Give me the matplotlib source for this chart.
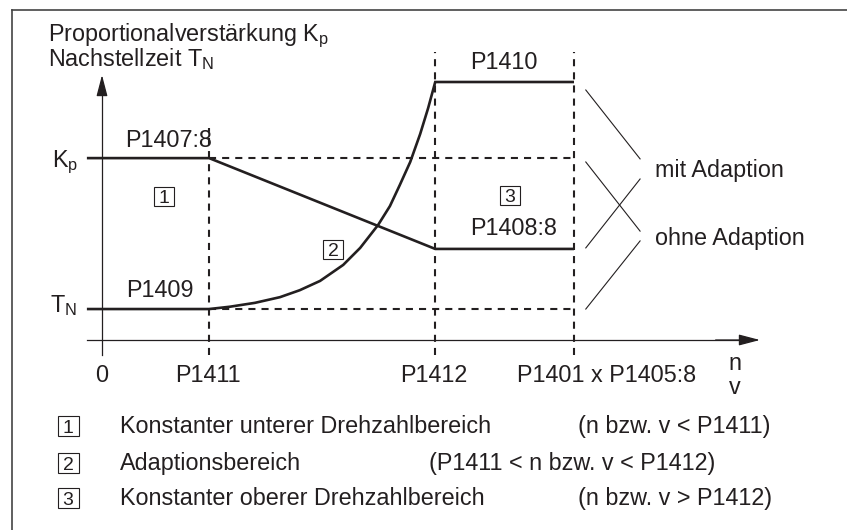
import matplotlib
matplotlib.use("Agg")
import matplotlib.pyplot as plt
from matplotlib import font_manager
from matplotlib.lines import Line2D
from matplotlib.patches import Rectangle

# speed axis (P1401 x P1405:8 = 100) and the parameter levels (P1410 = 100)
n_pos = [0, 22.7, 70.6, 100]
n_labels = ["0", "P1411", "P1412", "P1401 x P1405:8"]
kp_high = 70.5   # P1407:8
kp_low = 35.3    # P1408:8
tn_low = 12.0    # P1409
tn_high = 100.0  # P1410

# adaption curve of T_N
tn_curve_x = [22.7, 27.1, 32.4, 37.7, 41.9, 46.2, 51.1, 54.7, 58.5, 61.0, 63.1, 65.3, 67.4, 69.1, 70.6]
tn_curve_y = [12.0, 12.9, 14.4, 16.6, 19.3, 22.9, 29.1, 35.7, 44.6, 51.9, 60.1, 69.0, 79.8, 89.9, 100.0]

# thin bracket lines to the right ("mit Adaption" / "ohne Adaption")
bracket_x = [102.5, 114.0]
bracket_y = [[96.9, 70.2], [69.0, 42.2], [35.7, 62.4], [12.0, 38.4]]

legend_nums = ["1", "2", "3"]
legend_text = ["Konstanter unterer Drehzahlbereich", "Adaptionsbereich",
               "Konstanter oberer Drehzahlbereich"]
legend_cond = ["(n bzw. v < P1411)", "(P1411 < n bzw. v < P1412)", "(n bzw. v > P1412)"]

W, H = 847, 530
ink = "#231f20"
fs = 16.8

plt.rcParams["font.family"] = ["Liberation Sans", "DejaVu Sans"]
plt.rcParams["mathtext.fontset"] = "custom"
plt.rcParams["mathtext.rm"] = "Liberation Sans"
plt.rcParams["mathtext.it"] = "Liberation Sans:italic"

names = {f.name for f in font_manager.fontManager.ttflist}
narrow = "Liberation Sans Narrow" if "Liberation Sans Narrow" in names else "Liberation Sans"

fig = plt.figure(figsize=(W / 100, H / 100), dpi=100)
ax = fig.add_axes([0, 0, 1, 1])
sx, sy = 4.72, 2.58  # px per unit
ax.set_xlim(-102 / sx, (W - 102) / sx)
ax.set_ylim(-(H - 340) / sy, 340 / sy)
ax.axis("off")


def fxy(px, py):
    return px / W, 1 - py / H


def label(px, py, s, size=fs, ha="left", va="baseline", **kw):
    fig.text(*fxy(px, py), s, fontsize=size, ha=ha, va=va, color=ink, **kw)


def boxed(px, py, s, bw=20, bh=19, size=14):
    x0, y0 = fxy(px - bw / 2, py + bh / 2)
    fig.add_artist(Rectangle((x0, y0), bw / W, bh / H, transform=fig.transFigure,
                             fc="white", ec=ink, lw=0.8))
    fig.text(*fxy(px, py + 6.8), s, fontsize=size, ha="center", va="baseline",
             color=ink, family=narrow)


# frame
fig.add_artist(Line2D([12 / W, 1], [1 - 10 / H, 1 - 10 / H], color="#444444", lw=1.2))
fig.add_artist(Line2D([12 / W, 12 / W], [1 - 10 / H, 0], color="#444444", lw=1.2))

# axes with arrows
y_bot = -5.8
ax.plot([-3.2, 135], [0, 0], color=ink, lw=0.9)
ax.plot([0, 0], [y_bot, 98], color=ink, lw=0.9)
arr = dict(arrowstyle="-|>,head_length=0.65,head_width=0.17", mutation_scale=20,
           color=ink, lw=0.9, shrinkA=0, shrinkB=0)
ax.annotate("", xy=(139.4, 0), xytext=(130, 0), arrowprops=arr)
ax.annotate("", xy=(0, 102.7), xytext=(0, 95), arrowprops=arr)

# dashed guides
dash = dict(color=ink, lw=1.5, ls=(0, (3.4, 2.9)))
ax.plot([n_pos[1], n_pos[3]], [kp_high, kp_high], **dash)
ax.plot([n_pos[1], n_pos[3]], [tn_low, tn_low], **dash)
ax.plot([n_pos[1], n_pos[1]], [y_bot, 82], **dash)
ax.plot([n_pos[2], n_pos[2]], [y_bot, 111.6], **dash)
ax.plot([n_pos[3], n_pos[3]], [y_bot, 111.6], **dash)

# Kp with adaption
solid = dict(color=ink, lw=1.9, solid_capstyle="butt", solid_joinstyle="miter")
ax.plot([-3.2, n_pos[1], n_pos[2], n_pos[3]], [kp_high, kp_high, kp_low, kp_low], **solid)
# Tn with adaption
ax.plot([-3.2] + tn_curve_x + [n_pos[3]], [tn_low] + tn_curve_y + [tn_high], **solid)

for yy in bracket_y:
    ax.plot(bracket_x, yy, color=ink, lw=0.8)

# texts
label(48, 66, "Proportionalverstärkung K$_\\mathrm{p}$\nNachstellzeit T$_\\mathrm{N}$",
      linespacing=0.82)
label(78, 167, r"K$_\mathrm{p}$", ha="right")
label(77, 312, r"T$_\mathrm{N}$", ha="right")
label(125, 147, "P1407:8")
label(126, 297, "P1409")
label(504, 69, "P1410", ha="center")
label(470, 235, "P1408:8")
label(102, 382, n_labels[0], ha="center")
label(208, 382, n_labels[1], ha="center")
label(434, 382, n_labels[2], ha="center")
label(517, 382, n_labels[3])
label(735, 370, "n", ha="center")
label(735, 394, "v", ha="center")
label(655, 177, "mit Adaption")
label(655, 245, "ohne Adaption")

boxed(164, 196, "1")
boxed(333, 249, "2")
boxed(510, 195, "3")

rows_y = [433, 470, 505]
cond_end = [770, 715, 772]
for num, txt, cond, yb, cx in zip(legend_nums, legend_text, legend_cond, rows_y, cond_end):
    boxed(68, yb - 7, num, bw=21, bh=20)
    label(120, yb, txt)
    label(cx, yb, cond, ha="right")

fig.savefig("out.png", dpi=100)
